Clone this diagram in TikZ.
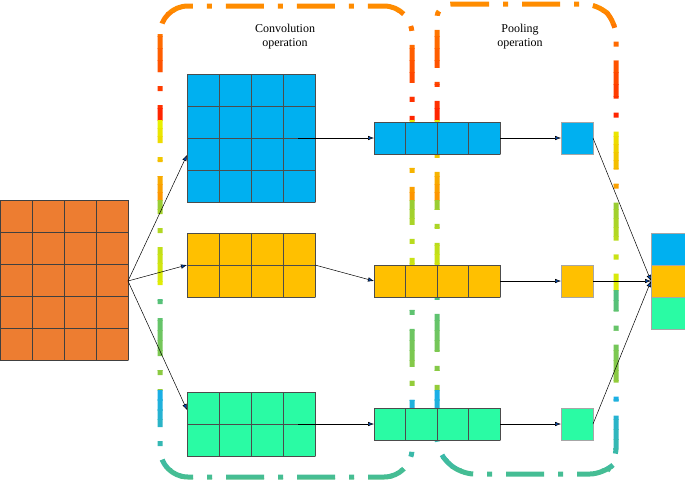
\documentclass[tikz,border=0pt]{standalone}
\usepackage{fontspec}
\setmainfont{Liberation Serif}
\usetikzlibrary{arrows.meta}
\definecolor{cor}{HTML}{ED7D31}
\definecolor{cbl}{HTML}{00B0F0}
\definecolor{cye}{HTML}{FFC000}
\definecolor{cgr}{HTML}{2AFBA4}
\definecolor{s0}{HTML}{FF1A00}
\definecolor{s1}{HTML}{FF8C00}
\definecolor{s2}{HTML}{E8F000}
\definecolor{s3}{HTML}{9ACD32}
\definecolor{s4}{HTML}{50C080}
\definecolor{s5}{HTML}{1AAFE6}
\begin{document}
\begin{tikzpicture}[x=1pt,y=-1pt,
  blk/.style={draw=gray!70,line width=0.6pt,anchor=north west,inner sep=0pt,outer sep=0pt},
  con/.style={line width=0.5pt,-{Latex[length=6pt,width=4.5pt,fill=blue!60!cyan!70!black]}},
  frame/.style={line width=5pt,dash pattern=on 38pt off 14pt on 5pt off 14pt},
  lab/.style={font=\fontsize{12}{14}\selectfont,align=center}]
\useasboundingbox (0,0) rectangle (685,488);
\def\cbox{(160,6) [rounded corners=28pt] -- (412,6) -- (412,477) -- (160,477) -- cycle}
\def\pbox{(437,4) [rounded corners=12pt]-- (598,4) [sharp corners]-- (616,22) -- (616,462) -- (604,474) -- (460,474) -- (437,452) [rounded corners=12pt]-- cycle}
\foreach \a/\b/\ya/\yb in {s0/s1/0/120, s1/s2/120/200, s2/s3/200/290, s3/s4/290/390, s4/s5/390/488}{
  \foreach \k in {0,...,9}{
    \pgfmathtruncatemacro\p{100-\k*10}
    \pgfmathsetmacro\yy{\ya+(\yb-\ya)*\k/10}
    \pgfmathsetmacro\yz{\ya+(\yb-\ya)*(\k+1)/10+0.5}
    \begin{scope}
      \colorlet{bc}{\b!\p!\a}
      \clip (0,\yy) rectangle (685,\yz);
      \draw[frame,bc] (160,6) to[out=90,in=180] (160,6);
      \draw[frame,bc,rounded corners=28pt] (160,6) rectangle (412,477);
      \draw[frame,bc,rounded corners=14pt] (437,4) -- (598,4) -- (616,22) -- (616,462) -- (604,474) -- (460,474) -- (437,452) -- cycle;
    \end{scope}
  }
}
% blocks
\node[blk,fill=cor,minimum width=128pt,minimum height=160pt] (in) at (0,200) {};
\draw[gray!50!black,line width=0.4pt,shift={(0,200)}] (0,0) grid[step=32pt] (128,160);
\node[blk,fill=cbl,minimum width=128pt,minimum height=128pt] (k1) at (187,74) {};
\node[blk,fill=cye,minimum width=128pt,minimum height=64pt] (k2) at (187,233) {};
\node[blk,fill=cgr,minimum width=128pt,minimum height=64pt] (k3) at (187,392) {};
\node[blk,fill=cbl,minimum width=126pt,minimum height=32pt] (v1) at (374,122) {};
\node[blk,fill=cye,minimum width=126pt,minimum height=32pt] (v2) at (374,265) {};
\node[blk,fill=cgr,minimum width=126pt,minimum height=32pt] (v3) at (374,408) {};
\node[blk,fill=cbl,minimum width=32pt,minimum height=32pt] (p1) at (561,122) {};
\node[blk,fill=cye,minimum width=32pt,minimum height=32pt] (p2) at (561,265) {};
\node[blk,fill=cgr,minimum width=32pt,minimum height=32pt] (p3) at (561,408) {};
\node[blk,fill=cbl,minimum width=34pt,minimum height=32pt] (o1) at (651,233) {};
\node[blk,fill=cye,minimum width=34pt,minimum height=32pt] (o2) at (651,265) {};
\node[blk,fill=cgr,minimum width=34pt,minimum height=32pt] (o3) at (651,297) {};
\begin{scope}[black!70,line width=0.4pt]
\draw[shift={(187,74)}] (0,0) grid[step=32pt] (128,128);
\draw[shift={(187,233)}] (0,0) grid[step=32pt] (128,64);
\draw[shift={(187,392)}] (0,0) grid[step=32pt] (128,64);
\foreach \y in {122,265,408}{\draw[shift={(374,\y)}] (0,0) grid[xstep=31.5pt,ystep=32pt] (126,32);}
\end{scope}
\coordinate (src) at (128,281);
\coordinate (k1a) at (187,155);
\coordinate (k3a) at (187,410);
\coordinate (k1b) at (298,138);
\coordinate (k3b) at (298,424);
\coordinate (oin) at (651,281);
\draw[con] (src) -- (k1a);
\draw[con] (src) -- (k2.west);
\draw[con] (src) -- (k3a);
\draw[con] (k1b) -- (v1.west);
\draw[con] (k2.east) -- (v2.west);
\draw[con] (k3b) -- (v3.west);
\draw[con] (v1.east) -- (p1.west);
\draw[con] (v2.east) -- (p2.west);
\draw[con] (v3.east) -- (p3.west);
\draw[con] (p1.east) -- (oin);
\draw[con] (p2.east) -- (oin);
\draw[con] (p3.east) -- (oin);
\node[lab] (t1) at (285,37) {Convolution\\operation};
\node[lab] (t2) at (520,37) {Pooling\\operation};
\end{tikzpicture}
\end{document}
